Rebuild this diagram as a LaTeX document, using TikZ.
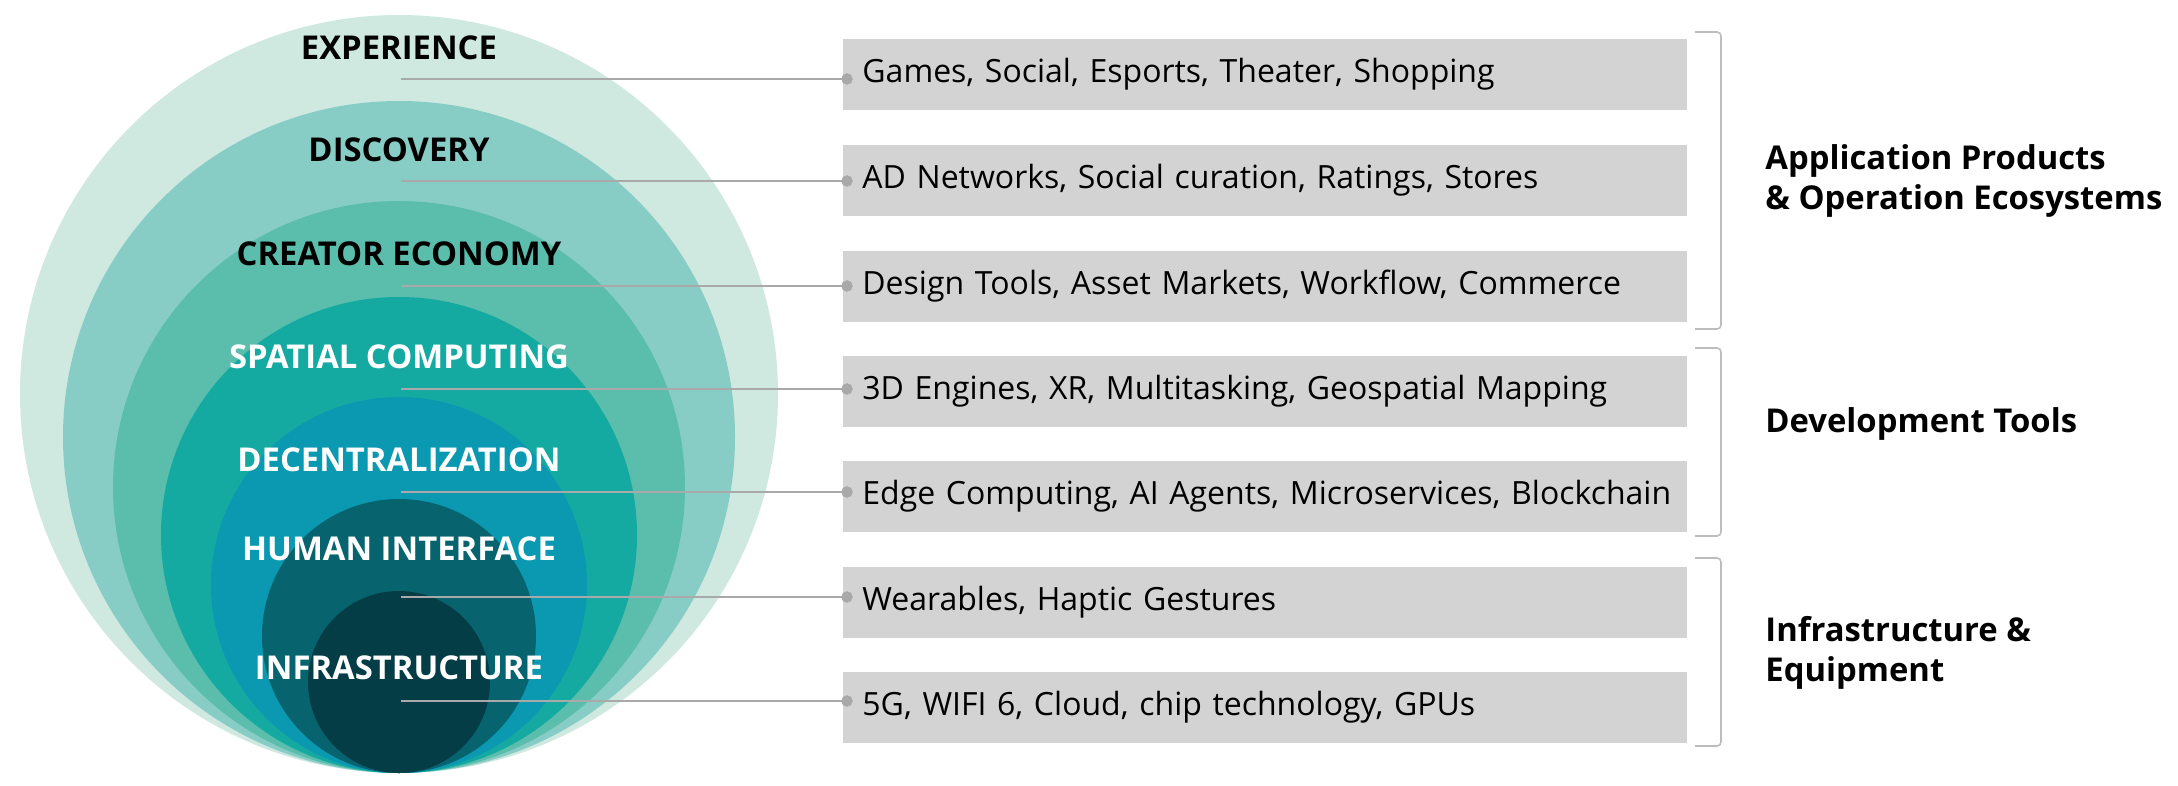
\documentclass[tikz,border=0pt]{standalone}
\usepackage{fontspec}
\setmainfont{Open Sans}
\definecolor{ringA}{HTML}{CFE8E0}
\definecolor{ringB}{HTML}{88CDC5}
\definecolor{ringC}{HTML}{5BBDAB}
\definecolor{ringD}{HTML}{14AAA1}
\definecolor{ringE}{HTML}{0A99B1}
\definecolor{ringF}{HTML}{07646F}
\definecolor{ringG}{HTML}{053D47}
\definecolor{boxgray}{HTML}{D3D3D3}
\definecolor{linegray}{HTML}{A9A9A9}
\definecolor{bracegray}{HTML}{BDBDBD}
\begin{document}
\begin{tikzpicture}[x=0.5pt,y=-0.5pt,
  ringlabel/.style={font=\fontsize{16.4pt}{19pt}\selectfont\bfseries, inner sep=0pt},
  itembox/.style={fill=boxgray, anchor=north west, minimum width=422pt,
    minimum height=35.5pt, text width=403pt, inner xsep=9.5pt, inner ysep=0pt,
    align=left, text height=11.5pt, text depth=3.5pt,
    font=\fontsize{16pt}{19pt}\selectfont},
  conn/.style={draw=linegray, line width=1pt},
  dot/.style={circle, fill=linegray, minimum size=5.6pt, inner sep=0pt},
  brace/.style={draw=bracegray, line width=0.8pt, rounded corners=2pt},
  grouplabel/.style={font=\fontsize{16.4pt}{20pt}\selectfont\bfseries, anchor=west, align=left, inner sep=0pt}
]
\useasboundingbox (0,0) rectangle (2178,786);

% nested rings, all touching at the bottom point
\fill[ringA] (399,394) circle[radius=189.5pt];
\fill[ringB] (399,437) circle[radius=168pt];
\fill[ringC] (399,487) circle[radius=143pt];
\fill[ringD] (399,535) circle[radius=119pt];
\fill[ringE] (399,585) circle[radius=94pt];
\fill[ringF] (399,636) circle[radius=68.5pt];
\fill[ringG] (399,682) circle[radius=45.5pt];

% ring captions
\node[ringlabel, text=black] (l1) at (399,48) {EXPERIENCE};
\node[ringlabel, text=black] (l2) at (399,150) {DISCOVERY};
\node[ringlabel, text=black] (l3) at (399,254) {CREATOR ECONOMY};
\node[ringlabel, text=white] (l4) at (399,357) {SPATIAL COMPUTING};
\node[ringlabel, text=white] (l5) at (399,460) {DECENTRALIZATION};
\node[ringlabel, text=white] (l6) at (399,549) {HUMAN INTERFACE};
\node[ringlabel, text=white] (l7) at (399,668) {INFRASTRUCTURE};

% item boxes (each list kept on one line)
\node[itembox] (b1) at (843,39)  {\mbox{Games, Social, Esports, Theater, Shopping}};
\node[itembox] (b2) at (843,145) {\mbox{AD Networks, Social curation, Ratings, Stores}};
\node[itembox] (b3) at (843,251) {\mbox{Design Tools, Asset Markets, Workflow, Commerce}};
\node[itembox] (b4) at (843,356) {\mbox{3D Engines, XR, Multitasking, Geospatial Mapping}};
\node[itembox] (b5) at (843,461) {\mbox{Edge Computing, AI Agents, Microservices, Blockchain}};
\node[itembox] (b6) at (843,567) {\mbox{Wearables, Haptic Gestures}};
\node[itembox] (b7) at (843,672) {\mbox{5G, WIFI 6, Cloud, chip technology, GPUs}};

% leader lines from the rings to the boxes
\foreach \i/\y in {1/79, 2/181, 3/286, 4/389, 5/492, 6/597, 7/701} {
  \coordinate (s\i) at (401,\y);
  \node[dot] (d\i) at (847,\y) {};
  \draw[conn] (s\i) -- (d\i.center);
  \node[dot] at (d\i) {};
}

% group brackets
\draw[brace] (1695,32) -- (1721,32) -- (1721,329) -- (1695,329);
\draw[brace] (1695,348) -- (1721,348) -- (1721,536) -- (1695,536);
\draw[brace] (1695,558) -- (1721,558) -- (1721,746) -- (1695,746);

% group captions
\node[grouplabel] (g1) at (1765,181) {Application Products\\\& Operation Ecosystems};
\node[grouplabel] (g2) at (1765,424) {Development Tools};
\node[grouplabel] (g3) at (1765,653) {Infrastructure \&\\Equipment};
\end{tikzpicture}
\end{document}
